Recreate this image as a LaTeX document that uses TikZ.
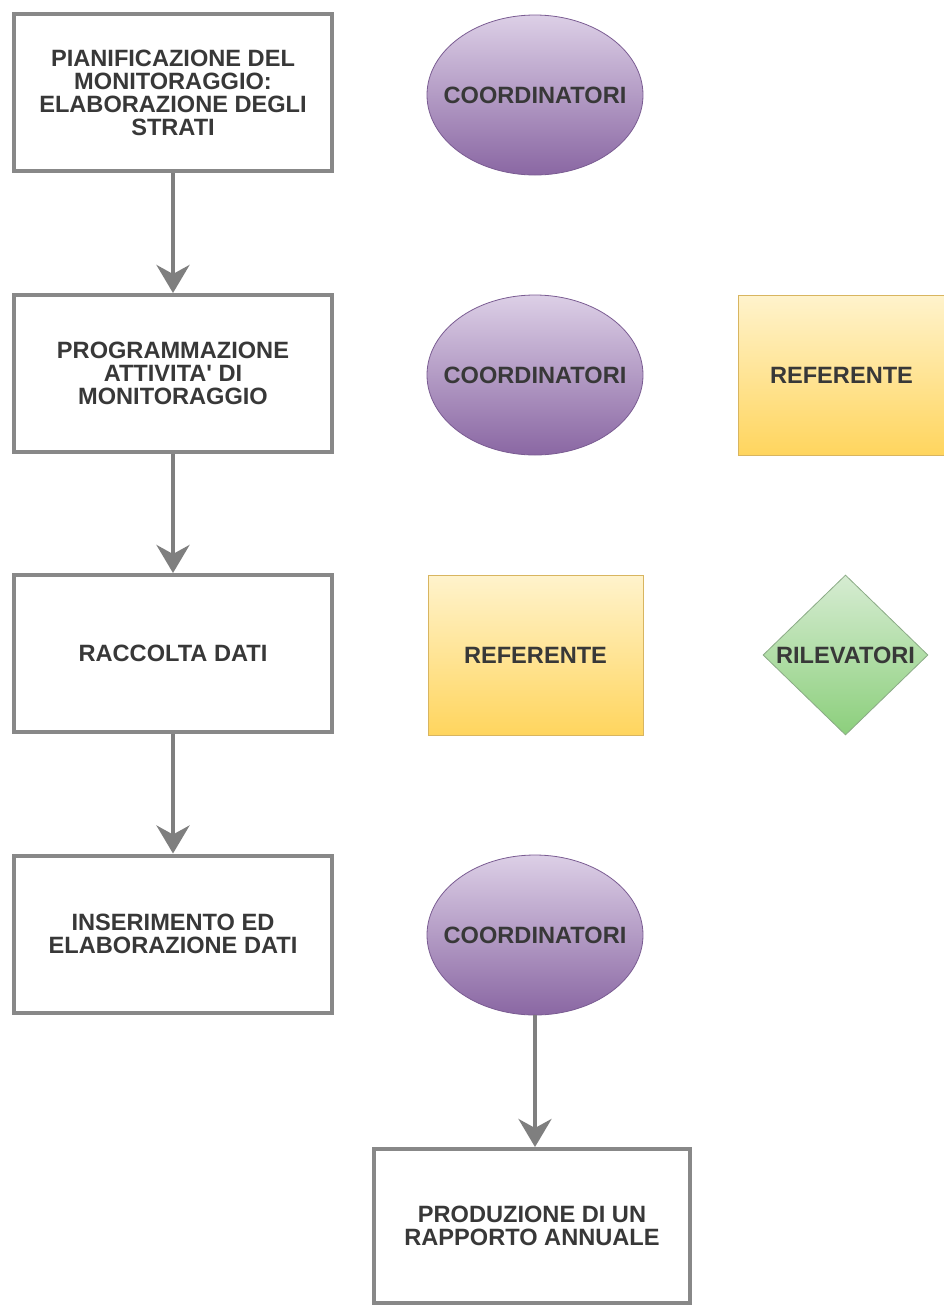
\documentclass[tikz,border=0pt]{standalone}
\usepackage{fontspec}
\setmainfont{Liberation Sans}[Ligatures=TeXOff]
\usetikzlibrary{shapes.geometric,arrows.meta}
\definecolor{txtc}{HTML}{383838}
\definecolor{boxc}{HTML}{888888}
\definecolor{arrc}{HTML}{7F7F7F}
\definecolor{purtop}{HTML}{DCCFE6}
\definecolor{purbot}{HTML}{8A67A3}
\definecolor{purline}{HTML}{7A5C92}
\definecolor{yeltop}{HTML}{FFF3CC}
\definecolor{yelbot}{HTML}{FFD55E}
\definecolor{yelline}{HTML}{D8B560}
\definecolor{grntop}{HTML}{D6ECD2}
\definecolor{grnbot}{HTML}{8CCF7C}
\definecolor{grnline}{HTML}{8BAA86}
\tikzset{
  lbl/.style={font=\fontsize{23.6}{23}\selectfont\bfseries, text=txtc, align=center},
  stepbox/.style={lbl, draw=boxc, line width=4pt, fill=white, rectangle,
    minimum width=318pt, minimum height=157pt, inner sep=0pt},
  coord/.style={ellipse, draw=purline, line width=0.8pt, top color=purtop, bottom color=purbot,
    minimum width=216pt, minimum height=160pt, inner sep=0pt},
  refbox/.style={lbl, rectangle, draw=yelline, line width=0.8pt, top color=yeltop, bottom color=yelbot,
    minimum height=160pt, inner sep=0pt},
  rilev/.style={diamond, draw=grnline, line width=0.8pt, top color=grntop, bottom color=grnbot,
    minimum width=165pt, minimum height=160pt, inner sep=0pt},
  flow/.style={draw=arrc, line width=4pt, -{Stealth[length=28pt,width=33pt,inset=9pt]}},
}
\begin{document}
\begin{tikzpicture}[x=1pt,y=-1pt]
\useasboundingbox (0,0) rectangle (944,1307);
\node[stepbox] (b1) at (173,92.5) {PIANIFICAZIONE DEL\\MONITORAGGIO:\\ELABORAZIONE DEGLI\\STRATI};
\node[stepbox] (b2) at (173,373.5) {PROGRAMMAZIONE\\ATTIVITA' DI\\MONITORAGGIO};
\node[stepbox] (b3) at (173,653.5) {RACCOLTA DATI};
\node[stepbox] (b4) at (173,934) {INSERIMENTO ED\\ELABORAZIONE DATI};
\node[stepbox, minimum width=316pt, minimum height=154pt] (b5) at (532,1226) {PRODUZIONE DI UN\\RAPPORTO ANNUALE};

\node[coord] (c1) at (535,95) {};
\node[lbl] (c1t) at (c1.center) {COORDINATORI};
\node[coord] (c2) at (535,375) {};
\node[lbl] (c2t) at (c2.center) {COORDINATORI};
\node[coord] (c3) at (535,935) {};
\node[lbl] (c3t) at (c3.center) {COORDINATORI};

\node[refbox, minimum width=215pt, text width=215pt] (r1) at (845.5,375) {\hspace*{-8pt}REFERENTE};
\node[refbox, minimum width=215pt] (r2) at (535.5,655) {REFERENTE};

\node[rilev] (d1) at (845.5,655) {};
\node[lbl] (d1t) at (d1.center) {RILEVATORI};

\draw[flow] (b1.south) -- (b2.north);
\draw[flow] (b2.south) -- (b3.north);
\draw[flow] (b3.south) -- (b4.north);
\draw[flow] (c3.south) -- (c3.south |- b5.north);
\end{tikzpicture}
\end{document}
